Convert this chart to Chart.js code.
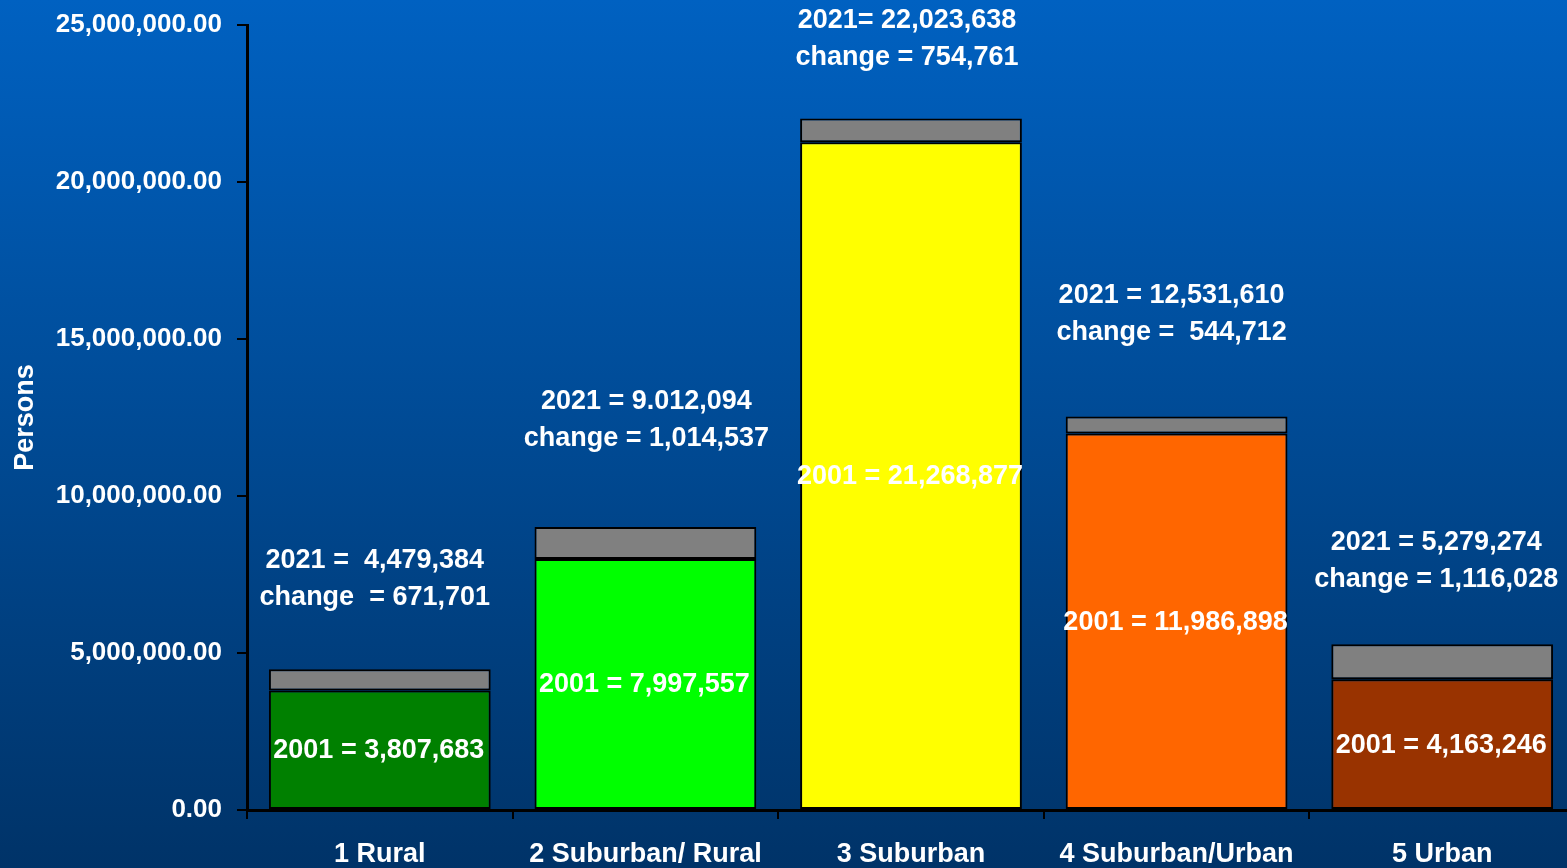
<!DOCTYPE html>
<html>
<head>
<meta charset="utf-8">
<script src="https://cdn.jsdelivr.net/npm/chart.js@4/dist/chart.umd.min.js"></script>
<style>
  html, body { margin: 0; padding: 0; overflow: hidden; width: 1567px; height: 868px; }
  #wrap { width: 1580px; height: 868px; background: linear-gradient(to bottom, rgb(0,97,193) 0%, rgb(0,74,148) 50%, rgb(0,51,104) 100%); }
  canvas { display: block; }
</style>
</head>
<body>
<div id="wrap"><canvas id="c" width="1580" height="868"></canvas></div>
<script>
const categories = ['1 Rural', '2 Suburban/ Rural', '3 Suburban', '4 Suburban/Urban', '5 Urban'];
const values2001 = [3807683, 7997557, 21268877, 11986898, 4163246];
const changeValues = [671701, 1014537, 754761, 544712, 1116028];
const label2021 = ['2021 =  4,479,384', '2021 = 9.012,094', '2021= 22,023,638', '2021 = 12,531,610', '2021 = 5,279,274'];
const labelChange = ['change  = 671,701', 'change = 1,014,537', 'change = 754,761', 'change =  544,712', 'change = 1,116,028'];
const label2001 = ['2001 = 3,807,683', '2001 = 7,997,557', '2001 = 21,268,877', '2001 = 11,986,898', '2001 = 4,163,246'];
const yTicks = [0, 5000000, 10000000, 15000000, 20000000, 25000000];

const barColors = ['#008000', '#00FF00', '#FFFF00', '#FF6600', '#993300'];
const FONT = "'Liberation Sans', Arial, Helvetica, sans-serif";

const labelPlugin = {
  id: 'barLabels',
  afterDatasetsDraw(chart) {
    const ctx = chart.ctx;
    const m0 = chart.getDatasetMeta(0);
    const m1 = chart.getDatasetMeta(1);
    const topGap = [72, 88, 61, 84, 65];
    const dx = [-5, 1, -4, -5, -6];
    ctx.save();
    ctx.fillStyle = '#ffffff';
    ctx.textAlign = 'center';
    ctx.textBaseline = 'middle';
    ctx.font = 'bold 27px ' + FONT;
    categories.forEach((c, i) => {
      const b0 = m0.data[i];
      const b1 = m1.data[i];
      ctx.fillText(label2001[i], b0.x - 1, (b0.y + b0.base) / 2 + 1);
      const top = b1.y;
      const y2 = top - topGap[i];
      ctx.fillText(labelChange[i], b1.x + dx[i], y2);
      ctx.fillText(label2021[i], b1.x + dx[i], y2 - 37);
    });
    ctx.restore();
  }
};

new Chart(document.getElementById('c'), {
  type: 'bar',
  data: {
    labels: categories,
    datasets: [
      {
        label: '2001',
        data: values2001,
        backgroundColor: barColors,
        borderColor: '#000000',
        borderWidth: 2,
        borderSkipped: false,
        barPercentage: 0.835,
        categoryPercentage: 1
      },
      {
        label: 'change',
        data: changeValues,
        backgroundColor: '#808080',
        borderColor: '#000000',
        borderWidth: 2,
        borderSkipped: false,
        barPercentage: 0.835,
        categoryPercentage: 1
      }
    ]
  },
  options: {
    responsive: false,
    animation: false,
    layout: { padding: { top: 25, right: 5, bottom: 0, left: 0 } },
    plugins: { legend: { display: false }, tooltip: { enabled: false } },
    scales: {
      x: {
        stacked: true,
        offset: true,
        grid: { drawOnChartArea: false, color: '#000000', tickColor: '#000000', tickLength: 9, lineWidth: 2, offset: true },
        border: { color: '#000000', width: 3 },
        ticks: { color: '#ffffff', font: { family: FONT, size: 27, weight: 'bold' }, padding: 19, maxRotation: 0, autoSkip: false },
        afterFit(s) { s.height = 58; s.paddingLeft = 0; s.paddingRight = 0; }
      },
      y: {
        stacked: true,
        min: 0,
        max: 25000000,
        afterBuildTicks(s) { s.ticks = yTicks.map(v => ({ value: v })); },
        grid: { drawOnChartArea: false, color: '#000000', tickColor: '#000000', tickLength: 10, lineWidth: 2 },
        border: { color: '#000000', width: 3 },
        ticks: {
          color: '#ffffff',
          font: { family: FONT, size: 26, weight: 'bold' },
          padding: 15,
          callback: v => Number(v).toLocaleString('en-US', { minimumFractionDigits: 2, maximumFractionDigits: 2 })
        },
        title: { display: true, text: 'Persons', color: '#ffffff', font: { family: FONT, size: 27, weight: 'bold' }, padding: { top: 9, bottom: 0 } },
        afterFit(s) { s.width = 247; s.paddingTop = 0; s.paddingBottom = 0; }
      }
    }
  },
  plugins: [labelPlugin]
});
</script>
</body>
</html>
